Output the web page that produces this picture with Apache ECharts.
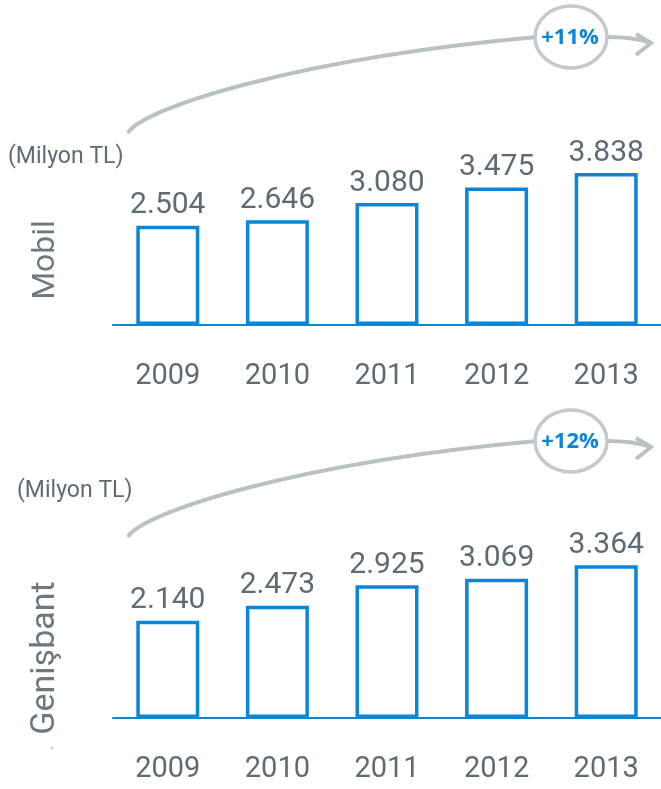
<!DOCTYPE html>
<html>
<head>
<meta charset="utf-8">
<script src="https://cdn.jsdelivr.net/npm/echarts@6/dist/echarts.min.js"></script>
<style>
  html, body { margin: 0; padding: 0; background: #fff; }
  #main { width: 661px; height: 789px; }
</style>
</head>
<body>
<div id="main"></div>
<script>
// yillar ve degerler (Milyon TL)
const years = ['2009', '2010', '2011', '2012', '2013'];
const mobilValues = [2504, 2646, 3080, 3475, 3838];
const genisbantValues = [2140, 2473, 2925, 3069, 3364];
const mobilGrowth = '+11%';
const genisbantGrowth = '+12%';

const blue = '#0a86d8';
const grey = '#5f6b73';
const curveGrey = '#b9c1c5';
const font = 'Roboto, sans-serif';

// sayilari 2.504 seklinde yaz
function fmt(v) {
  return (v / 1000).toFixed(3);
}

let chart = echarts.init(document.getElementById('main'), null, { renderer: 'canvas' });

function xAxisOf(gridIndex) {
  return {
    type: 'category',
    gridIndex: gridIndex,
    data: years,
    axisLine: { lineStyle: { color: blue, width: 2 } },
    axisTick: { show: false },
    axisLabel: { color: grey, fontSize: 29, fontFamily: font, margin: 37 }
  };
}

function yAxisOf(gridIndex) {
  return {
    type: 'value',
    gridIndex: gridIndex,
    min: 0,
    max: 5000,
    show: false
  };
}

function barSeries(idx, values) {
  return {
    type: 'bar',
    xAxisIndex: idx,
    yAxisIndex: idx,
    data: values,
    barWidth: 63,
    itemStyle: { color: '#fff', borderColor: blue, borderWidth: 3.5 },
    label: {
      show: true,
      position: 'top',
      distance: 5,
      color: grey,
      fontSize: 30,
      fontFamily: font,
      formatter: p => fmt(p.value)
    },
    silent: true
  };
}

// ok ve yuzde balonu
function growthArrow(dy, text) {
  return [
    {
      type: 'bezierCurve',
      shape: { x1: 128, y1: 133 + dy, cpx1: 142, cpy1: 108 + dy, cpx2: 300, cpy2: 58 + dy, x2: 537, y2: 37 + dy },
      style: { stroke: curveGrey, lineWidth: 4, fill: null }
    },
    {
      type: 'bezierCurve',
      shape: { x1: 607, y1: 37 + dy, cpx1: 625, cpy1: 37 + dy, cpx2: 640, cpy2: 39 + dy, x2: 651, y2: 43 + dy },
      style: { stroke: curveGrey, lineWidth: 4, fill: null }
    },
    {
      type: 'polyline',
      shape: { points: [[636, 34 + dy], [651, 43 + dy], [636, 55 + dy]] },
      style: { stroke: curveGrey, lineWidth: 4, fill: null }
    },
    {
      type: 'ellipse',
      shape: { cx: 571, cy: 37 + dy, rx: 36, ry: 31 },
      style: { stroke: '#c3c9cc', lineWidth: 3.5, fill: '#fff' }
    },
    {
      type: 'text',
      x: 570,
      y: 38 + dy,
      style: {
        text: text,
        fill: blue,
        font: 'bold 22px "Liberation Sans Narrow", "Open Sans", sans-serif',
        align: 'center',
        verticalAlign: 'middle'
      }
    }
  ];
}

const option = {
  animation: false,
  grid: [
    { left: 113, width: 552, top: 127, height: 198 },
    { left: 113, width: 552, top: 491, height: 227 }
  ],
  xAxis: [xAxisOf(0), xAxisOf(1)],
  yAxis: [yAxisOf(0), yAxisOf(1)],
  series: [barSeries(0, mobilValues), barSeries(1, genisbantValues)],
  graphic: [
    ...growthArrow(0, mobilGrowth),
    ...growthArrow(404, genisbantGrowth),
    {
      type: 'text', x: 8, y: 157,
      style: { text: '(Milyon TL)', fill: grey, font: '23px Roboto, sans-serif', verticalAlign: 'middle' }
    },
    {
      type: 'text', x: 17, y: 491,
      style: { text: '(Milyon TL)', fill: grey, font: '23px Roboto, sans-serif', verticalAlign: 'middle' }
    },
    {
      type: 'text', x: 46, y: 260, rotation: Math.PI / 2,
      style: { text: 'Mobil', fill: '#6e797f', font: '32px Roboto, sans-serif', align: 'center', verticalAlign: 'middle' }
    },
    {
      type: 'text', x: 45, y: 658, rotation: Math.PI / 2,
      style: { text: 'Genişbant', fill: '#6e797f', font: '34px Roboto, sans-serif', align: 'center', verticalAlign: 'middle' }
    },
    {
      type: 'circle', shape: { cx: 52, cy: 748, r: 1.5 },
      style: { fill: '#c9cfd2' }
    }
  ]
};

chart.setOption(option);
</script>
</body>
</html>
